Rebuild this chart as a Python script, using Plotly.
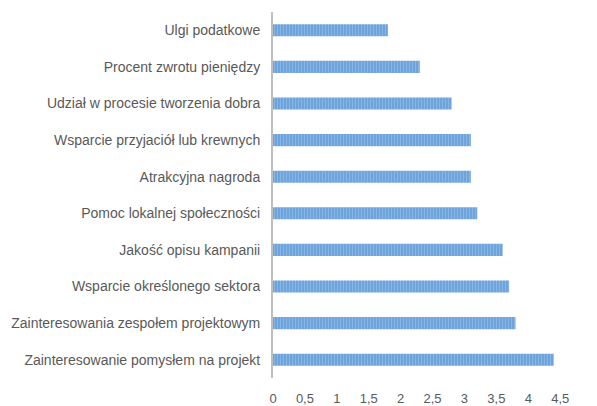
import plotly.graph_objects as go

categories = [
    "Zainteresowanie pomysłem na projekt",
    "Zainteresowania zespołem projektowym",
    "Wsparcie określonego sektora",
    "Jakość opisu kampanii",
    "Pomoc lokalnej społeczności",
    "Atrakcyjna nagroda",
    "Wsparcie przyjaciół lub krewnych",
    "Udział w procesie tworzenia dobra",
    "Procent zwrotu pieniędzy",
    "Ulgi podatkowe",
]
values = [4.4, 3.8, 3.7, 3.6, 3.2, 3.1, 3.1, 2.8, 2.3, 1.8]
tick_vals = [0, 0.5, 1, 1.5, 2, 2.5, 3, 3.5, 4, 4.5, 5]
tick_text = ["0", "0,5", "1", "1,5", "2", "2,5", "3", "3,5", "4", "4,5", "5"]

fig = go.Figure(go.Bar(
    y=categories, x=values, orientation="h",
    marker=dict(
        color="#6aa2da",
        line=dict(width=0),
        pattern=dict(shape="|", fgcolor="#a6c9ed", size=3, solidity=0.4, fillmode="overlay"),
    ),
))

# page body has an 8px default margin, so the figure is sized/offset to compensate
fig.update_layout(
    width=589, height=398,
    margin=dict(l=265, r=3, t=4, b=28),
    paper_bgcolor="white", plot_bgcolor="white",
    bargap=0.67,
    showlegend=False,
    font=dict(family="Liberation Sans, Arial, sans-serif", size=13, color="#595959"),
)
fig.update_xaxes(
    range=[0, 5.03], tickvals=tick_vals, ticktext=tick_text,
    showgrid=False, zeroline=False, showline=False, automargin=False,
    ticks="outside", ticklen=8, tickcolor="rgba(0,0,0,0)",
    ticklabeloverflow="allow",
    tickfont=dict(size=13, color="#595959"),
)
fig.update_yaxes(
    showgrid=False, zeroline=False, automargin=False,
    showline=True, linecolor="#bfbfbf", linewidth=2,
    ticks="outside", ticklen=8, tickcolor="rgba(0,0,0,0)",
    tickfont=dict(size=14, color="#595959"),
)

fig.write_html("out.html")
